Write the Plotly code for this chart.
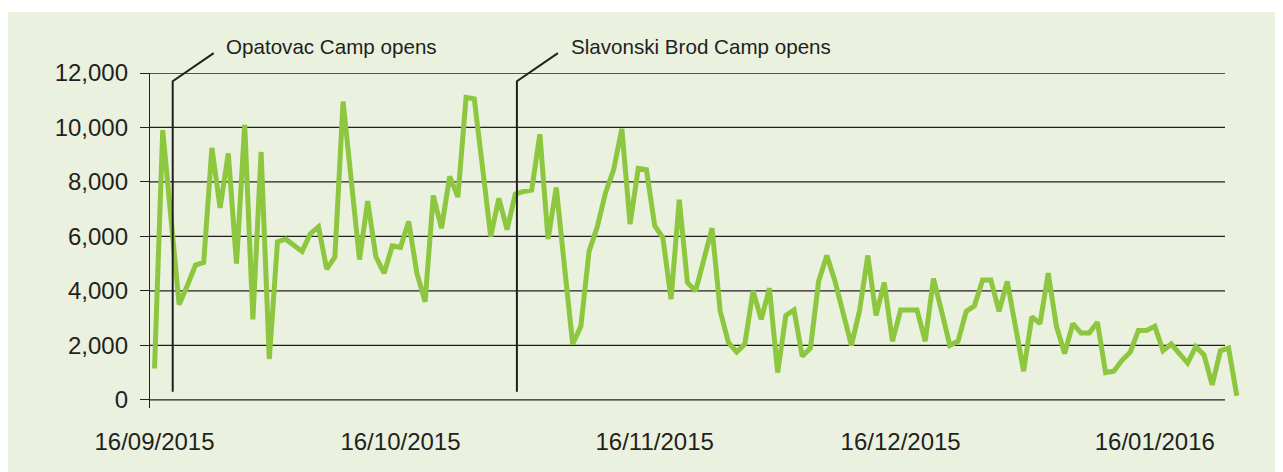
import pandas as pd
import plotly.graph_objects as go

# ---- data (daily arrivals) ----
start_date = "2015-09-16"
arrivals = [
    1150, 9900, 6700, 3500, 4200, 4950, 5050, 9250, 7050, 9050,
    5000, 10100, 2950, 9100, 1500, 5800, 5900, 5700, 5450, 6100,
    6350, 4800, 5250, 10950, 8050, 5150, 7300, 5250, 4650, 5650,
    5600, 6550, 4650, 3600, 7500, 6300, 8200, 7450, 11100, 11050,
    8550, 6000, 7400, 6250, 7550, 7650, 7700, 9750, 5900, 7800,
    4900, 2050, 2700, 5450, 6350, 7600, 8450, 9950, 6450, 8500,
    8450, 6400, 5950, 3700, 7350, 4300, 4000, 5150, 6300, 3250,
    2100, 1750, 2050, 4000, 2950, 4100, 1000, 3100, 3300, 1600,
    1900, 4350, 5300, 4350, 3150, 2000, 3300, 5300, 3100, 4300,
    2150, 3300, 3300, 3300, 2150, 4450, 3250, 2000, 2150, 3250,
    3450, 4400, 4400, 3250, 4350, 2700, 1050, 3050, 2800, 4650,
    2700, 1700, 2800, 2450, 2450, 2850, 1000, 1050, 1450, 1750,
    2550, 2550, 2700, 1800, 2050, 1700, 1350, 1950, 1650, 550,
    1800, 1900, 150,
]
tick_dates = ["2015-09-16", "2015-10-16", "2015-11-16", "2015-12-16", "2016-01-16"]
y_ticks = [0, 2000, 4000, 6000, 8000, 10000, 12000]

events = ["Opatovac Camp opens", "Slavonski Brod Camp opens"]
event_day = [2.22, 44.2]          # position of the marker line (days after start)

# ---- styling ----
GREEN_BG = "#EAF1DE"
LINE_GREEN = "#8DC63F"
INK = "#231F20"
FONT = "Liberation Sans, Arial, sans-serif"

dates = pd.date_range(start_date, periods=len(arrivals), freq="D")
t0 = pd.Timestamp(start_date)
x_lo_day, x_hi_day = -0.55, 133.0
y_lo, y_hi = -300, 12000

W, H = 1275, 464
ML, MR, MT, MB = 142, 38, 65, 64
PW, PH = W - ML - MR, H - MT - MB

def day_to_ts(d):
    return t0 + pd.Timedelta(days=d)

def xf(d):
    return (d - x_lo_day) / (x_hi_day - x_lo_day)

def yf(v):
    return (v - y_lo) / (y_hi - y_lo)

fig = go.Figure()
fig.add_trace(go.Scatter(
    x=dates, y=arrivals, mode="lines",
    line=dict(color=LINE_GREEN, width=5),
    hoverinfo="skip", showlegend=False,
))

shapes = []
# green panel background (white strip of 4 px at the top)
shapes.append(dict(type="rect", xref="paper", yref="paper",
                   x0=-ML / PW - 0.01, x1=1 + MR / PW + 0.01,
                   y0=-MB / PH - 0.01, y1=1 + (MT - 4) / PH,
                   fillcolor=GREEN_BG, line=dict(width=0), layer="below"))
# horizontal grid lines ending before the last data points
grid_end = (1225 - 150) / PW
for v in y_ticks:
    shapes.append(dict(type="line", xref="paper", yref="y",
                       x0=0, x1=grid_end, y0=v, y1=v,
                       line=dict(color=INK, width=1.3), layer="below"))
# event marker lines
for d in event_day:
    shapes.append(dict(type="path", xref="paper", yref="paper",
                       path=f"M {xf(d)} {yf(300)} L {xf(d)} {yf(11700)} L {xf(d + 5.0)} {yf(12730)}",
                       line=dict(color=INK, width=2)))
fig.update_layout(shapes=shapes)

for name, d in zip(events, event_day):
    fig.add_annotation(text=name, xref="paper", yref="paper",
                       x=xf(d + 6.3), y=yf(12980), xanchor="left", yanchor="middle",
                       showarrow=False, font=dict(family=FONT, size=20.6, color=INK))

fig.update_xaxes(
    type="date",
    range=[day_to_ts(x_lo_day), day_to_ts(x_hi_day)],
    tickvals=[pd.Timestamp(t) for t in tick_dates],
    ticktext=[pd.Timestamp(t).strftime("%d/%m/%Y") for t in tick_dates],
    showgrid=False, zeroline=False, showline=False, ticks="",
    tickfont=dict(family=FONT, size=24, color=INK),
    ticklabelstandoff=17,
)
fig.update_yaxes(
    range=[y_lo, y_hi],
    tickvals=y_ticks, tickformat=",d",
    showgrid=False, zeroline=False,
    showline=True, linecolor=INK, linewidth=1.3,
    ticks="outside", ticklen=9, tickcolor=INK, tickwidth=1.3,
    tickfont=dict(family=FONT, size=24, color=INK),
    ticklabelstandoff=7,
)
fig.update_layout(
    width=W, height=H, autosize=False,
    margin=dict(l=ML, r=MR, t=MT, b=MB),
    paper_bgcolor="white", plot_bgcolor=GREEN_BG,
    font=dict(family=FONT, color=INK),
)
fig.write_html("out.html")
